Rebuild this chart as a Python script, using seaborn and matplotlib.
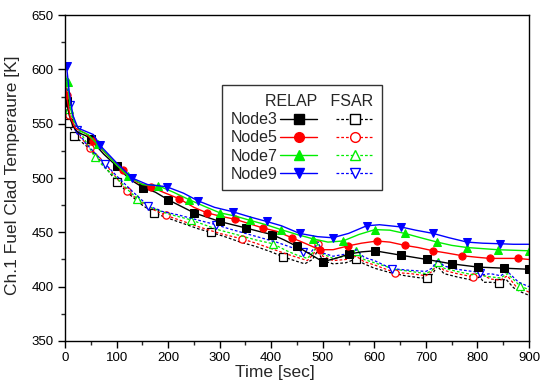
import matplotlib
matplotlib.use("Agg")
import matplotlib.pyplot as plt
import seaborn as sns
from matplotlib.lines import Line2D
from matplotlib.ticker import MultipleLocator

sns.set_style("ticks")
plt.rcParams['font.family'] = ['Liberation Sans', 'DejaVu Sans']

# ---------------- data ----------------
# RELAP (solid, filled markers)
r3_t = [0, 3, 8, 15, 25, 40, 50, 60, 75, 100, 125, 152, 175, 200, 225, 250, 275, 300, 325, 351,
        375, 401, 425, 450, 475, 500, 525, 551, 575, 601, 651, 702, 750, 801, 851, 900]
r3_y = [580, 571, 558, 548, 542, 539, 536, 530, 522, 511, 499, 491, 487, 480, 474, 468, 464, 460, 457, 454,
        451, 448, 443, 437, 430, 423, 426, 430, 432, 433, 429, 425, 421, 418, 417, 416]
r3_m = [3, 50, 100, 152, 200, 250, 300, 351, 401, 450, 500, 551, 601, 651, 702, 750, 801, 851, 900]

r5_t = [0, 3, 10, 20, 40, 55, 80, 112, 140, 166, 190, 221, 250, 275, 300, 330, 357, 384, 410, 440,
        465, 494, 520, 549, 575, 605, 630, 659, 685, 714, 740, 770, 800, 824, 850, 879, 900]
r5_y = [590, 576, 556, 546, 541, 534, 522, 507, 496, 492, 487, 481, 473, 468, 465, 462, 458, 454, 451, 445,
        440, 434, 434, 437.5, 440, 442, 441, 438, 436, 433, 431, 428.5, 427, 426, 426, 426, 425]
r5_m = [3, 55, 112, 166, 221, 275, 330, 384, 440, 494, 549, 605, 659, 714, 770, 824, 879]

r7_t = [0, 5, 10, 18, 30, 45, 63, 100, 122, 150, 180, 210, 241, 270, 300, 330, 359, 390, 419, 450,
        481, 510, 539, 570, 601, 630, 659, 690, 722, 750, 780, 810, 839, 870, 900]
r7_y = [595, 588, 565, 552, 543, 540, 531, 512, 502, 494, 493, 487, 480, 474, 468, 465, 461, 457, 452.5, 448,
        444, 441, 442, 448, 452.5, 452, 449, 445, 441, 438, 436, 435, 434, 433.5, 433]
r7_m = [5, 63, 122, 180, 241, 300, 359, 419, 481, 539, 601, 659, 722, 780, 839, 900]

r9_t = [0, 3, 8, 15, 25, 40, 55, 68, 100, 130, 160, 197, 230, 258, 290, 325, 360, 391, 420, 455,
        490, 519, 550, 585, 610, 651, 680, 714, 745, 780, 810, 843, 870, 900]
r9_y = [605, 603, 580, 558, 546, 543, 540, 530, 514, 500, 494, 492, 486, 479, 473, 469, 464, 460, 456, 449,
        446, 445, 449, 456, 457, 455, 452, 449, 445, 441, 440, 439.5, 439, 439]
r9_m = [3, 68, 130, 197, 258, 325, 391, 455, 519, 585, 651, 714, 780, 843]

# FSAR (dashed, open markers)
f3_t = [0, 3, 6, 12, 17, 30, 50, 75, 101, 125, 150, 172, 200, 230, 260, 283, 310, 340, 370, 400,
        423, 445, 465, 480, 490, 500, 520, 545, 564, 580, 600, 630, 660, 690, 702, 712, 722, 735,
        760, 790, 805, 812, 825, 841, 855, 870, 885, 900]
f3_y = [585, 565, 551, 545, 539, 534, 526, 512, 496, 485, 475, 468, 463, 458, 453, 450, 446, 441, 437, 432,
        427.5, 424, 421, 425, 433, 424, 421, 422, 425.5, 421, 417, 413, 410, 408, 408, 411, 419, 412,
        409, 406, 409, 404, 404, 403.5, 407, 399, 395, 392]
f3_m = [6, 17, 101, 172, 283, 423, 564, 702, 841]

f5_t = [0, 4, 8, 15, 25, 48, 75, 100, 120, 150, 175, 196, 230, 260, 300, 343, 370, 400, 430, 450,
        470, 482, 491, 500, 520, 545, 565, 580, 600, 640, 670, 700, 712, 722, 735, 760, 791, 800,
        810, 825, 845, 858, 875, 900]
f5_y = [588, 568, 558, 548, 540, 528, 515, 500, 488, 477, 470, 465.5, 460, 455, 449, 444, 440, 435, 430, 427,
        424, 430, 439.5, 428, 424, 425, 428, 423, 420, 413, 412, 410, 414, 421, 415, 412, 409, 409,
        411, 407, 406, 410, 400, 395]
f5_m = [8, 48, 120, 196, 343, 491, 640, 791]

f7_t = [0, 4, 8, 20, 35, 58, 80, 100, 120, 140, 170, 200, 244, 270, 300, 340, 370, 403, 430, 450,
        470, 482, 491, 500, 520, 545, 564, 580, 600, 640, 670, 700, 712, 723, 735, 760, 790, 805,
        812, 825, 845, 858, 882, 900]
f7_y = [592, 575, 564, 547, 538, 519, 508, 500, 490, 481, 472, 467, 461.5, 457, 452, 447, 443, 439.5, 433, 429,
        426, 432, 440, 430, 426, 428, 433, 425, 422, 416, 414, 412, 415, 423, 417, 414, 411, 413,
        410, 409, 408, 412, 401, 397]
f7_m = [8, 58, 140, 244, 403, 564, 723, 882]

f9_t = [0, 3, 10, 23, 40, 60, 78, 100, 130, 161, 190, 220, 260, 293, 320, 350, 380, 410, 440, 462,
        476, 484, 491, 500, 520, 545, 565, 580, 600, 634, 670, 700, 712, 723, 735, 760, 790, 805,
        812, 825, 845, 858, 880, 900]
f9_y = [600, 585, 567, 544, 532, 522, 513, 502, 488, 474.5, 469, 466, 461, 457, 453, 449, 445, 441, 436, 432,
        431, 436, 441, 431, 428, 430, 434, 427, 424, 416.5, 415, 414, 417, 425, 419, 416, 414, 413,
        411, 412, 410, 414, 404, 400]
f9_m = [10, 23, 78, 161, 293, 462, 634, 805]

nodes = ["Node3", "Node5", "Node7", "Node9"]
colors = ["#000000", "#ff0000", "#00ee00", "#0000ff"]
relap_markers = ["s", "o", "^", "v"]

relap = [(r3_t, r3_y, r3_m), (r5_t, r5_y, r5_m), (r7_t, r7_y, r7_m), (r9_t, r9_y, r9_m)]
fsar = [(f3_t, f3_y, f3_m), (f5_t, f5_y, f5_m), (f7_t, f7_y, f7_m), (f9_t, f9_y, f9_m)]

dash = (0, (2.2, 1.6))

# ---------------- figure ----------------
fig = plt.figure(figsize=(5.42, 3.87), dpi=100)
ax = fig.add_axes([0.120, 0.119, 0.856, 0.842])

for (t, y, m), c, mk in zip(fsar, colors, relap_markers):
    idx = [t.index(v) for v in m]
    sns.lineplot(x=t, y=y, ax=ax, color=c, linestyle=dash, linewidth=0.9,
                 marker=mk, markevery=idx, markersize=5.2, markerfacecolor="white",
                 markeredgecolor=c, markeredgewidth=0.9, sort=False, estimator=None)

for (t, y, m), c, mk in zip(relap, colors, relap_markers):
    idx = [t.index(v) for v in m]
    sns.lineplot(x=t, y=y, ax=ax, color=c, linewidth=1.0,
                 marker=mk, markevery=idx, markersize=5.2, markerfacecolor=c,
                 markeredgecolor=c, sort=False, estimator=None)

ax.set_xlim(0, 900)
ax.set_ylim(350, 650)
ax.xaxis.set_major_locator(MultipleLocator(100))
ax.xaxis.set_minor_locator(MultipleLocator(50))
ax.yaxis.set_major_locator(MultipleLocator(50))
ax.yaxis.set_minor_locator(MultipleLocator(25))
ax.tick_params(which="major", direction="out", length=5, width=1, labelsize=9.5, color="black",
               labelcolor="black", top=False, right=False, pad=3)
ax.tick_params(which="minor", direction="out", length=3, width=1, top=False, right=False)
for s in ax.spines.values():
    s.set_visible(True)
    s.set_color("black")
    s.set_linewidth(1.0)

ax.set_xlabel("Time [sec]", fontsize=12.5)
ax.set_ylabel("Ch.1 Fuel Clad Temperaure [K]", fontsize=12.5)
ax.xaxis.set_label_coords(0.453, -0.075)
ax.yaxis.set_label_coords(-0.098, 0.51)

# legend
handles = []
for c, mk in zip(colors, relap_markers):
    handles.append(Line2D([], [], color=c, linewidth=1.0, marker=mk, markersize=7,
                          markerfacecolor=c, markeredgecolor=c))
for c, mk in zip(colors, relap_markers):
    handles.append(Line2D([], [], color=c, linewidth=0.9, linestyle=dash, marker=mk, markersize=7,
                          markerfacecolor="white", markeredgecolor=c))
labels = nodes + [""] * 4
leg = ax.legend(handles, labels, ncol=2, markerfirst=False, loc="upper left",
                bbox_to_anchor=(0.338, 0.785), fontsize=11.5, title="RELAP   FSAR",
                title_fontsize=11.5, alignment="right", handlelength=2.35, handletextpad=0.15,
                columnspacing=1.0, labelspacing=0.2, frameon=True, fancybox=False,
                borderaxespad=0, borderpad=0.55)
leg.get_frame().set_edgecolor("black")
leg.get_frame().set_linewidth(1.0)

fig.savefig("out.png", dpi=100)
